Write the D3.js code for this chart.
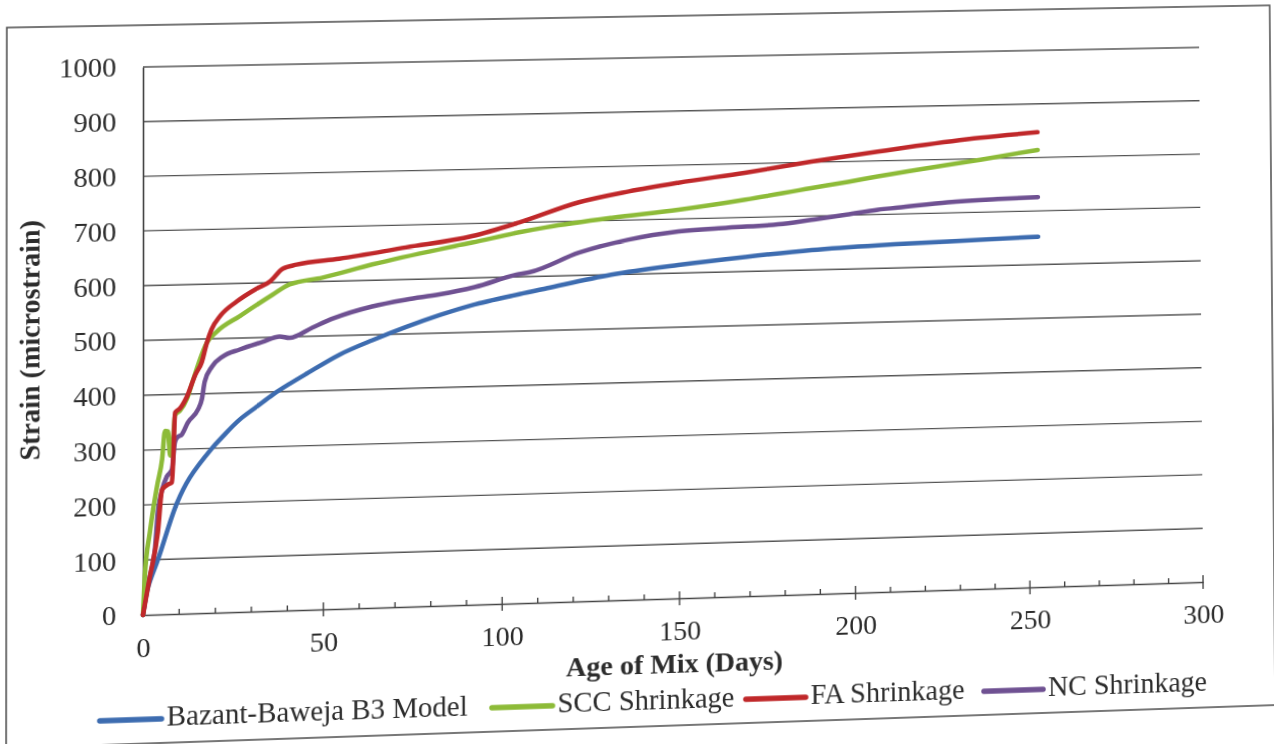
<!DOCTYPE html>
<html><head><meta charset="utf-8">
<script src="https://cdn.jsdelivr.net/npm/d3@7"></script>
<style>
html,body{margin:0;padding:0;background:#fff;overflow:hidden;width:1274px;height:744px;}
#chart{position:absolute;left:0;top:0;transform-origin:0 0;overflow:visible;}
text{font-family:"Liberation Serif","Times New Roman",serif;fill:#2c2c2c;}
</style></head><body>
<svg id="chart" width="1300" height="780"></svg>
<script>
// ---------- data ----------
const seriesNames = ["Bazant-Baweja B3 Model", "SCC Shrinkage", "FA Shrinkage", "NC Shrinkage"];
const seriesColors = ["#3d6cb0", "#8dbb38", "#c0282a", "#6f5192"];

const b3Days   = [0, 1.4, 4.3, 9.4, 13, 19.1, 22.1, 26.8, 31.6, 36, 40.7, 45.5, 54.6, 63.8, 73.3, 82.6, 91.8, 105, 113, 131, 150, 169, 188, 207, 227, 253];
const b3Strain = [0, 50, 103, 202, 248, 300, 321, 351, 374, 395, 414, 432, 465, 490, 513, 533, 550, 568, 578, 600, 615, 627, 637, 643, 647, 652];

const sccDays   = [0, 0.5, 1.9, 3.9, 5.3, 6.1, 6.9, 7.5, 8.1, 8.9, 10.2, 12.2, 13.8, 17.7, 20.5, 26.8, 36, 40.7, 49.9, 63.8, 82.6, 91.8, 105, 112.6, 131.2, 150.1, 169.1, 187.9, 198.4, 207, 217.6, 236.5, 253];
const sccStrain = [0, 70, 150, 234, 283, 334, 333, 289, 300, 363, 370, 392, 424, 493, 513, 540, 578, 596, 607, 629, 654, 665, 682, 690, 705, 717, 733, 752, 762, 771, 781, 798, 814];

const faDays   = [0, 1.9, 4.1, 5.3, 6.9, 8.0, 8.4, 8.9, 10.2, 12.2, 14.5, 16.3, 17.7, 19, 21.5, 26, 31.6, 35.2, 38.8, 42.7, 54.6, 73.3, 91.8, 105, 121.9, 136, 150, 169, 188, 207, 218, 236.5, 253];
const faStrain = [0, 69, 149, 227, 236, 240, 290, 367, 374, 396, 435, 458, 493, 517, 542, 567, 590, 602, 625, 632, 641, 659, 677, 700, 735, 753, 767, 783, 801, 817, 826, 839, 847];

const ncDays   = [0, 1.1, 1.9, 3.3, 4.1, 5.3, 6.6, 8.0, 8.8, 9.4, 10.8, 12.4, 15.2, 16.3, 17.1, 19.1, 22.1, 26.8, 33.2, 37.9, 40.7, 47.1, 53, 63.8, 73.3, 82.6, 92.5, 105, 108, 121.9, 136, 150.1, 164.3, 178.5, 187.9, 198, 207, 212.7, 227, 241.4, 253];
const ncStrain = [0, 45, 69, 118, 185, 227, 251, 263, 312, 321, 327, 348, 371, 390, 422, 449, 467, 479, 492, 501, 498, 516, 532, 552, 563, 571, 583, 605, 608, 642, 664, 677, 682, 686, 693, 701, 709, 712, 720, 724, 726];

const xTicks = [0, 50, 100, 150, 200, 250, 300];
const yTicks = [0, 100, 200, 300, 400, 500, 600, 700, 800, 900, 1000];
const xTitle = "Age of Mix (Days)";
const yTitle = "Strain (microstrain)";

// ---------- layout ----------
const plot = {left: 143, right: 1203, top: 67, bottom: 615};
const fontSize = 28;
const legendStarts = [101, 486, 739, 979];
const legendY = 719;

const x = d3.scaleLinear().domain([0, 300]).range([plot.left, plot.right]);
const y = d3.scaleLinear().domain([0, 1000]).range([plot.bottom, plot.top]);

const svg = d3.select("#chart");

// outer frame
svg.append("rect").attr("x", 10).attr("y", 25).attr("width", 1266).attr("height", 718)
  .attr("fill", "#fff").attr("stroke", "#555").attr("stroke-width", 1.6);

// gridlines
svg.append("g").selectAll("line").data(yTicks.filter(d => d > 0)).join("line")
  .attr("x1", x(0)).attr("x2", x(300)).attr("y1", d => y(d)).attr("y2", d => y(d))
  .attr("stroke", "#545454").attr("stroke-width", 1.4);

// y axis
const ya = svg.append("g").attr("transform", `translate(${plot.left},0)`)
  .call(d3.axisLeft(y).tickValues(yTicks).tickFormat(d3.format("d")).tickSize(0).tickPadding(26));
ya.select(".domain").attr("stroke", "#444").attr("stroke-width", 1.6);
ya.selectAll("text").style("font-size", fontSize + "px").attr("fill", "#2c2c2c");

// x axis
const xa = svg.append("g").attr("transform", `translate(0,${plot.bottom})`)
  .call(d3.axisBottom(x).tickValues(xTicks).tickFormat(d3.format("d")).tickSize(0).tickPadding(22));
xa.select(".domain").attr("stroke", "#444").attr("stroke-width", 1.6);
xa.selectAll("text").style("font-size", fontSize + "px").attr("fill", "#2c2c2c");

// minor and major tick marks
const minor = d3.range(10, 300, 10).filter(v => v % 50 !== 0);
svg.append("g").selectAll("line").data(minor).join("line")
  .attr("x1", d => x(d)).attr("x2", d => x(d)).attr("y1", y(0) - 5).attr("y2", y(0))
  .attr("stroke", "#444").attr("stroke-width", 1.4);
svg.append("g").selectAll("line").data(xTicks.filter(d => d > 0)).join("line")
  .attr("x1", d => x(d)).attr("x2", d => x(d)).attr("y1", y(0) - 7).attr("y2", y(0) + 7)
  .attr("stroke", "#444").attr("stroke-width", 1.4);

// axis titles
svg.append("text").attr("x", 668).attr("y", 690).attr("text-anchor", "middle")
  .style("font-size", fontSize + "px").style("font-weight", "bold").text(xTitle);
svg.append("text").attr("transform", "translate(42,338) rotate(-90)").attr("text-anchor", "middle")
  .style("font-size", fontSize + "px").style("font-weight", "bold").text(yTitle);

// series
const series = [
  {name: seriesNames[0], color: seriesColors[0], days: b3Days, vals: b3Strain, curve: d3.curveCatmullRom.alpha(0.5)},
  {name: seriesNames[1], color: seriesColors[1], days: sccDays, vals: sccStrain, curve: d3.curveMonotoneX},
  {name: seriesNames[2], color: seriesColors[2], days: faDays, vals: faStrain, curve: d3.curveMonotoneX},
  {name: seriesNames[3], color: seriesColors[3], days: ncDays, vals: ncStrain, curve: d3.curveMonotoneX}
];
const drawOrder = [0, 3, 1, 2];
drawOrder.forEach(i => {
  const s = series[i];
  const line = d3.line().x(d => x(d[0])).y(d => y(d[1])).curve(s.curve);
  svg.append("path").datum(s.days.map((d, j) => [d, s.vals[j]]))
    .attr("fill", "none").attr("stroke", s.color).attr("stroke-width", 4.5)
    .attr("stroke-linejoin", "round").attr("stroke-linecap", "round").attr("d", line);
});

// legend
const lg = svg.append("g");
series.forEach((s, i) => {
  const x0 = legendStarts[i];
  lg.append("line").attr("x1", x0).attr("x2", x0 + 60).attr("y1", legendY).attr("y2", legendY)
    .attr("stroke", s.color).attr("stroke-width", 5.5).attr("stroke-linecap", "round");
  lg.append("text").attr("x", x0 + 65).attr("y", legendY + 7)
    .style("font-size", (fontSize + 0.5) + "px").text(s.name);
});

// ---------- perspective of the scanned page ----------
function homography(src, dst) {
  const A = [], b = [];
  for (let i = 0; i < 4; i++) {
    const [px, py] = src[i], [u, v] = dst[i];
    A.push([px, py, 1, 0, 0, 0, -u * px, -u * py]); b.push(u);
    A.push([0, 0, 0, px, py, 1, -v * px, -v * py]); b.push(v);
  }
  const n = 8;
  for (let c = 0; c < n; c++) {
    let p = c;
    for (let r = c + 1; r < n; r++) if (Math.abs(A[r][c]) > Math.abs(A[p][c])) p = r;
    [A[c], A[p]] = [A[p], A[c]]; [b[c], b[p]] = [b[p], b[c]];
    for (let r = c + 1; r < n; r++) {
      const f = A[r][c] / A[c][c];
      for (let k = c; k < n; k++) A[r][k] -= f * A[c][k];
      b[r] -= f * b[c];
    }
  }
  const h = new Array(n).fill(0);
  for (let r = n - 1; r >= 0; r--) {
    let s = b[r];
    for (let k = r + 1; k < n; k++) s -= A[r][k] * h[k];
    h[r] = s / A[r][r];
  }
  return h;
}
const src = [[plot.left, plot.bottom], [plot.right, plot.bottom], [plot.left, plot.top], [plot.right, plot.top]];
const dst = [[143, 615], [1203, 582], [143, 67], [1199, 47.4]];
const h = homography(src, dst);
document.getElementById("chart").style.transform =
  `matrix3d(${h[0]},${h[3]},0,${h[6]},${h[1]},${h[4]},0,${h[7]},0,0,1,0,${h[2]},${h[5]},0,1)`;
</script>
</body></html>
